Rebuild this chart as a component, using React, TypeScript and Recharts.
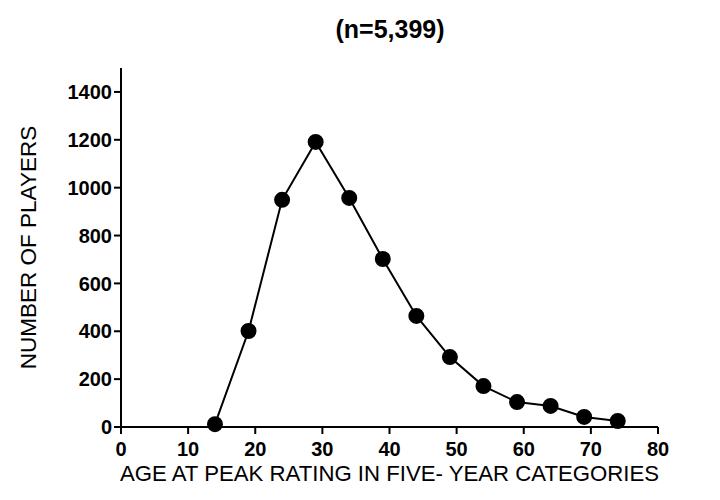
import React from 'react';
import { LineChart, Line, XAxis, YAxis } from 'recharts';

// age bucket midpoints and player counts per five-year category
const ages = [14, 19, 24, 29, 34, 39, 44, 49, 54, 59, 64, 69, 74];
const players = [12, 401, 949, 1191, 957, 702, 464, 292, 171, 104, 88, 42, 25];
const xTicks = [0, 10, 20, 30, 40, 50, 60, 70, 80];
const yTicks = [0, 200, 400, 600, 800, 1000, 1200, 1400];

const data = ages.map((age, i) => ({ age, count: players[i] }));

const font = '"Liberation Sans", Arial, sans-serif';

const XTick = (props: any) => {
  const { x, y, payload } = props;
  return (
    <text x={x} y={y + 20} textAnchor="middle" fill="#000" fontSize={20} fontWeight="bold" fontFamily={font}>
      {payload.value}
    </text>
  );
};

export default function App() {
  return (
    <div style={{ position: 'absolute', left: 0, top: 0, width: 720, height: 500, background: '#fff', fontFamily: font }}>
      <div style={{ position: 'absolute', left: 0, width: 780, top: 15, textAlign: 'center', fontWeight: 'bold', fontSize: 25 }}>
        (n=5,399)
      </div>
      <LineChart width={720} height={500} data={data} margin={{ top: 68, right: 62, bottom: 0, left: 0 }}>
        <XAxis
          dataKey="age"
          type="number"
          domain={[0, 80]}
          ticks={xTicks}
          height={73}
          axisLine={{ stroke: '#000', strokeWidth: 2 }}
          tickLine={{ stroke: '#000', strokeWidth: 2 }}
          tickSize={7}
          tick={<XTick />}
          label={{ value: 'AGE AT PEAK RATING IN FIVE- YEAR CATEGORIES', position: 'insideBottom', offset: 19, fill: '#000', fontSize: 22.2, fontFamily: font }}
        />
        <YAxis
          type="number"
          domain={[0, 1500]}
          ticks={yTicks}
          width={121}
          axisLine={{ stroke: '#000', strokeWidth: 2 }}
          tickLine={{ stroke: '#000', strokeWidth: 2 }}
          tickSize={7}
          tick={{ fill: '#000', fontSize: 20, fontWeight: 'bold', fontFamily: font }}
          label={{ value: 'NUMBER OF PLAYERS', angle: -90, position: 'insideLeft', offset: 28, fill: '#000', fontSize: 22.5, fontFamily: font, style: { textAnchor: 'middle' } }}
        />
        <Line
          dataKey="count"
          stroke="#000"
          strokeWidth={2}
          dot={{ r: 7, fill: '#000', stroke: '#000' }}
          isAnimationActive={false}
        />
      </LineChart>
    </div>
  );
}
